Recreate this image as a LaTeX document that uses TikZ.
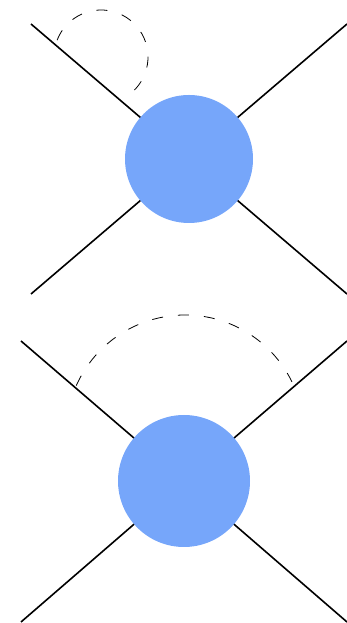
\documentclass[tikz,border=0pt]{standalone}
\definecolor{blobblue}{RGB}{118,166,250}
\begin{document}
\begin{tikzpicture}[x=1pt,y=1pt,
  leg/.style={line width=1.6pt},
  loop/.style={line width=0.8pt,dash pattern=on 11pt off 15pt},
  blob/.style={circle,fill=blobblue,inner sep=0pt}]
\useasboundingbox (0,0) rectangle (347,623);
% top diagram
\coordinate (c1) at (189,464);
\coordinate (a1) at (31,599);
\coordinate (b1) at (347,599);
\coordinate (d1) at (31,329);
\coordinate (e1) at (347,329);
\draw[leg] (a1) -- (c1) -- (e1);
\draw[leg] (b1) -- (c1) -- (d1);
\node[blob,minimum size=128pt] (blob1) at (c1) {};
\draw[loop] (101,566) ++(159:47) arc[start angle=159,end angle=-62,radius=47];
% bottom diagram
\coordinate (c2) at (184,142);
\coordinate (a2) at (21,282);
\coordinate (b2) at (347,282);
\coordinate (d2) at (21,1);
\coordinate (e2) at (347,1);
\draw[leg] (a2) -- (c2) -- (e2);
\draw[leg] (b2) -- (c2) -- (d2);
\node[blob,minimum size=132pt] (blob2) at (c2) {};
\draw[loop] (185,189) ++(156:119) arc[start angle=156,end angle=26,radius=119];
\end{tikzpicture}
\end{document}
